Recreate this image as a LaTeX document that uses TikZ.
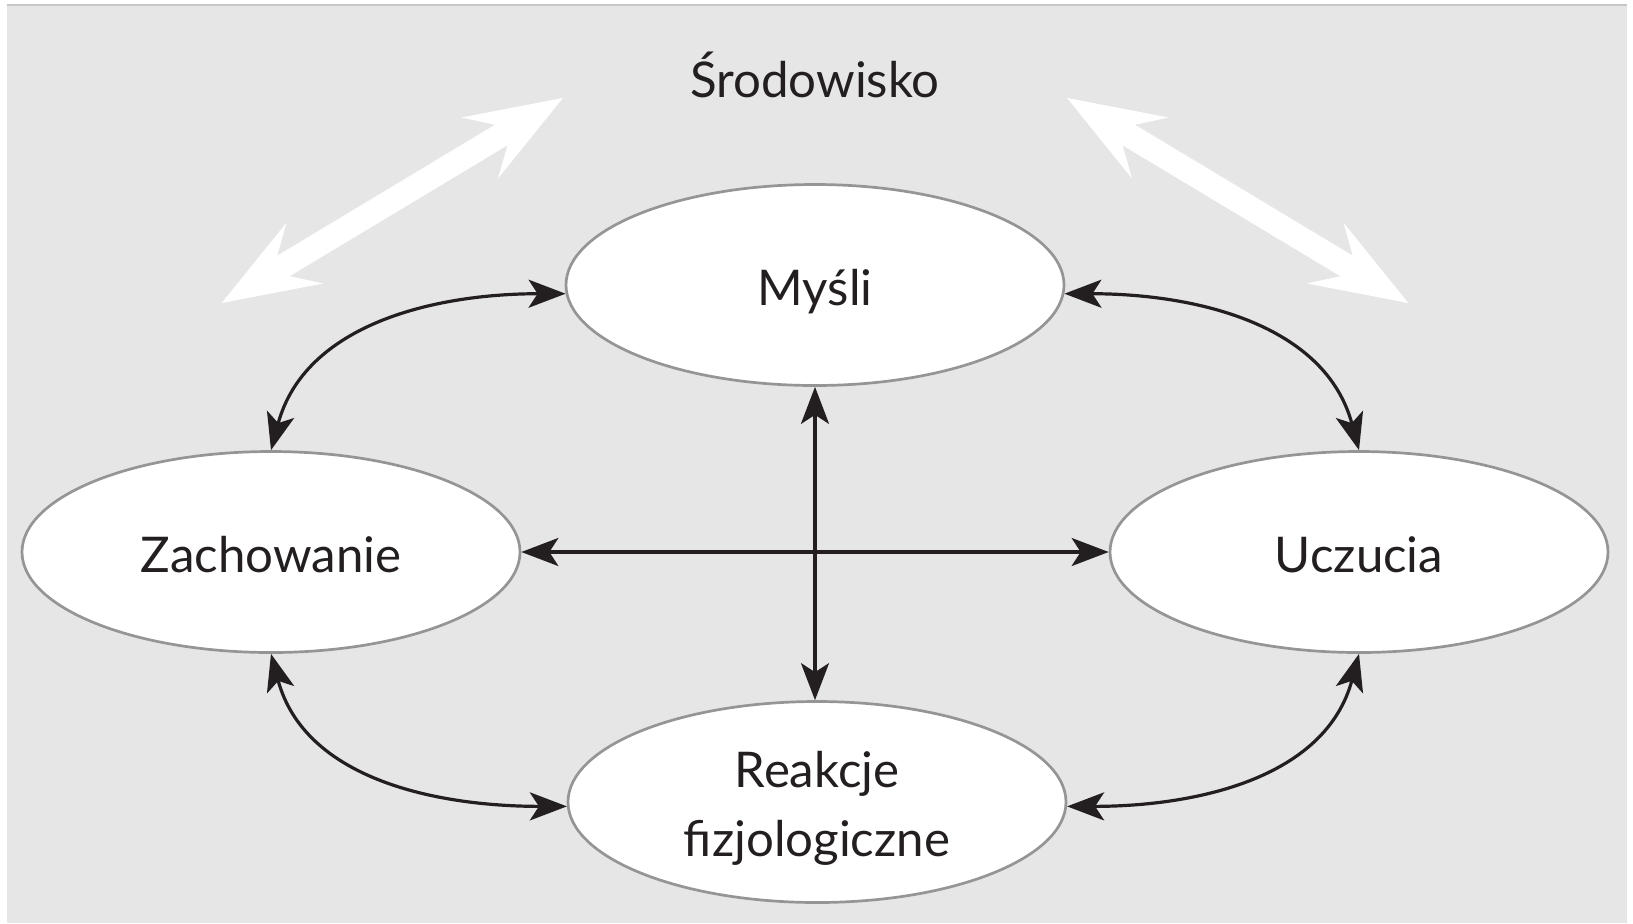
\documentclass[tikz,border=0pt]{standalone}
\usepackage{fontspec}
\setmainfont{Lato}
\usetikzlibrary{arrows.meta,shapes.geometric}

\definecolor{panel}{HTML}{E6E6E6}
\definecolor{rim}{HTML}{C6C6C6}
\definecolor{ink}{HTML}{231F20}
\definecolor{outline}{HTML}{959595}

% double-headed white arrow: #1 start tip, #2 direction, #3 length (px units)
\newcommand\envarrow[3]{%
  \fill[envarrowstyle, shift={#1}, rotate=#2]
    (0,0) -- (97,35.5) -- (72,12) -- ({#3-72},12) -- ({#3-97},35.5) -- (#3,0)
    -- ({#3-97},-35.5) -- ({#3-72},-12) -- (72,-12) -- (97,-35.5) -- cycle;}

\begin{document}
\begin{tikzpicture}[x=0.5pt, y=0.5pt,
  state/.style={ellipse, draw=outline, line width=1.35pt, fill=white,
    minimum width=249pt, minimum height=100.5pt, inner sep=0pt,
    text=ink, font=\fontsize{24.6}{34.5}\selectfont,
    text height=20pt, text depth=0pt},
  title/.style={text=ink, font=\fontsize{24.6}{34.5}\selectfont, inner sep=0pt},
  link/.style={draw=ink, line width=1.6pt,
    {Stealth[length=18.5pt,width=14pt,inset=4.5pt]}-{Stealth[length=18.5pt,width=14pt,inset=4.5pt]}},
  envarrowstyle/.style={fill=white},
]
\useasboundingbox (0,0) rectangle (1633,-923);
\fill[white] (0,0) rectangle (1633,-923);
\fill[panel] (7,-5) rectangle (1627,-923);
\draw[rim, line width=1pt] (7,-5) -- (1627,-5);

% environment label and its two exchange arrows
\node[title, anchor=base] (env) at (815,-97) {Środowisko};
\envarrow{(221.7,-303)}{31.0}{398.1}
\envarrow{(1408.3,-303)}{149.0}{398.1}

% the four components
\node[state] (mysli) at (815,-285) {Myśli};
\node[state] (zach) at (271,-552) {Zachowanie};
\node[state] (uczu) at (1359,-552) {Uczucia};
\node[state, align=center, text height=54.5pt] (reak) at (817,-802) {Reakcje\\fizjologiczne};

% mutual influences
\draw[link] (mysli.south) -- (mysli.south |- reak.north);
\draw[link] (zach.east) -- (uczu.west);
\draw[link] (mysli.182) to[out=180, in=75] (zach.north);
\draw[link] (mysli.-2) to[out=0, in=105] (uczu.north);
\draw[link] (zach.south) to[out=-75, in=180] (reak.181);
\draw[link] (uczu.south) to[out=-105, in=0] (reak.-1);
\end{tikzpicture}
\end{document}
